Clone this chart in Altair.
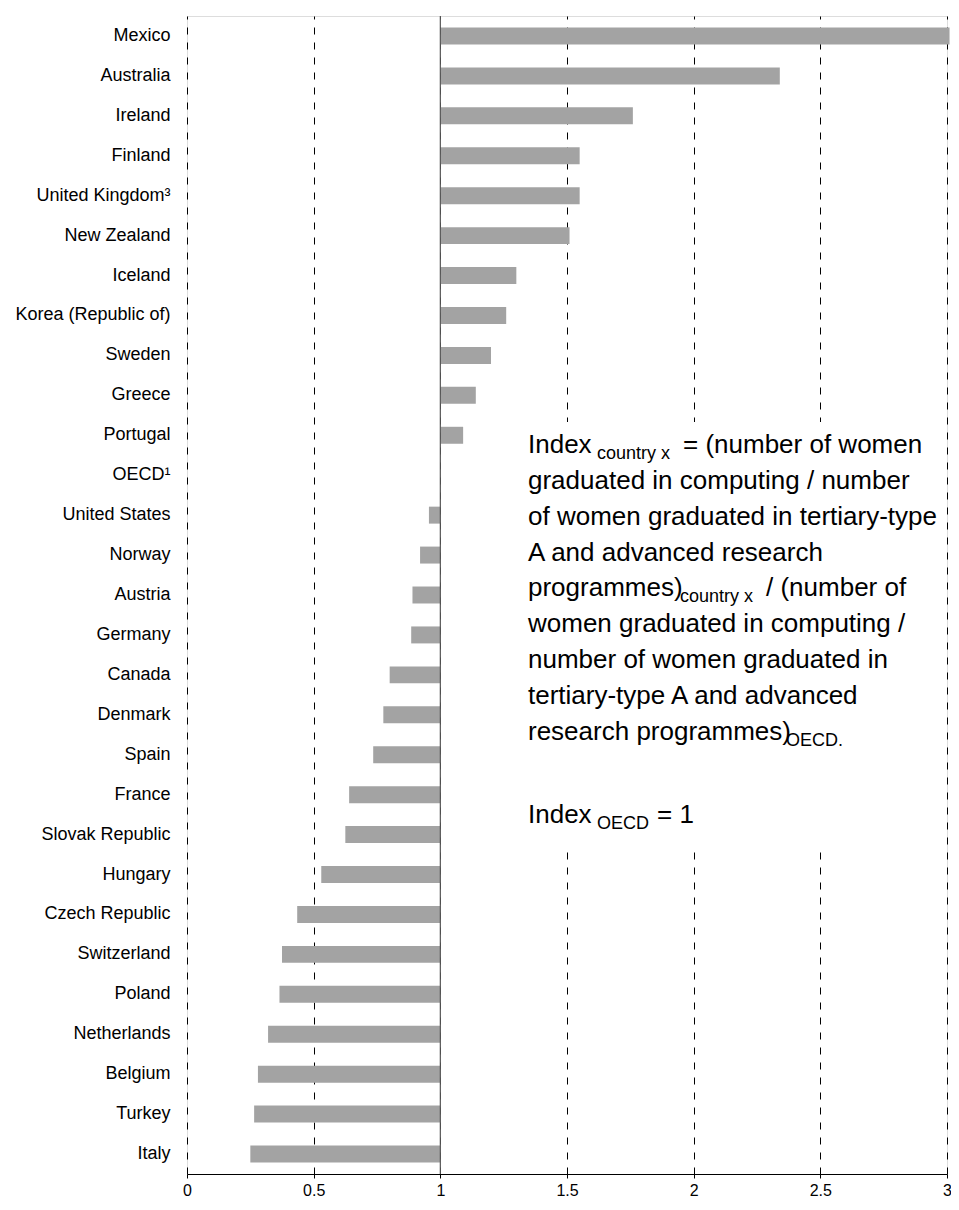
import altair as alt
import pandas as pd

countries = ["Mexico", "Australia", "Ireland", "Finland", "United Kingdom³", "New Zealand",
             "Iceland", "Korea (Republic of)", "Sweden", "Greece", "Portugal", "OECD¹",
             "United States", "Norway", "Austria", "Germany", "Canada", "Denmark", "Spain",
             "France", "Slovak Republic", "Hungary", "Czech Republic", "Switzerland",
             "Poland", "Netherlands", "Belgium", "Turkey", "Italy"]
values = [3.01, 2.34, 1.76, 1.55, 1.55, 1.51, 1.30, 1.26, 1.20, 1.14, 1.09, 1.00,
          0.955, 0.92, 0.89, 0.885, 0.80, 0.775, 0.735, 0.64, 0.625, 0.53, 0.435,
          0.375, 0.365, 0.32, 0.28, 0.265, 0.25]
x_ticks = [0, 0.5, 1, 1.5, 2, 2.5, 3]
baseline_value = [1]

df = pd.DataFrame({"country": countries, "value": values})

FONT = "Liberation Sans"
W, H = 760, 1158
PL, PT = 179, 8

bars = alt.Chart(df).mark_bar(color="#A3A3A3").encode(
    y=alt.Y("country:N", sort=countries, title=None,
            scale=alt.Scale(paddingInner=0.575, paddingOuter=0.2875),
            axis=alt.Axis(ticks=False, domain=False, labelFontSize=18, labelFont=FONT,
                          labelColor="black", labelPadding=17, grid=False)),
    x=alt.X("value:Q", title=None,
            scale=alt.Scale(domain=[0, 3], nice=False, zero=True),
            axis=alt.Axis(values=x_ticks, format=".1~f", labelFontSize=16, labelFont=FONT,
                          labelColor="black", domainColor="black", tickColor="black",
                          tickSize=4, labelPadding=4, grid=True, gridColor="black",
                          gridDash=[7, 8], gridWidth=1, gridOpacity=1, labelFlush=False)),
    x2=alt.X2(datum=1),
)

rule = alt.Chart(pd.DataFrame({"x": baseline_value})).mark_rule(
    color="#555555", strokeWidth=1.2).encode(x="x:Q")

OX, OY = PL + 8, PT + 8

# white box behind the annotation (page coords minus plot origin)
box = alt.Chart(pd.DataFrame({"a": [0]})).mark_rect(color="white").encode(
    x=alt.value(515 - OX), x2=alt.value(938 - OX), y=alt.value(422 - OY), y2=alt.value(850 - OY))

segments = [
    ("Index", 528, 453, 26),
    ("country x", 597, 459, 18),
    ("= (number of women", 683, 453, 26),
    ("graduated in computing / number", 528, 489, 26),
    ("of women graduated in tertiary-type", 528, 525, 26),
    ("A and advanced research", 528, 561, 26),
    ("programmes)", 528, 596, 26),
    ("country x", 680, 602, 18),
    ("/ (number of", 766, 596, 26),
    ("women graduated in computing /", 528, 632, 26),
    ("number of women graduated in", 528, 668, 26),
    ("tertiary-type A and advanced", 528, 704, 26),
    ("research programmes)", 528, 740, 26),
    ("OECD.", 786, 746, 18),
    ("Index", 528, 823, 26),
    ("OECD", 597, 829, 18),
    ("= 1", 657, 823, 26),
]

layers = [bars, rule, box]
one = pd.DataFrame({"a": [0]})
for txt, px, py, fs in segments:
    layers.append(
        alt.Chart(one).mark_text(align="left", baseline="alphabetic", fontSize=fs,
                                 font=FONT, color="black").encode(
            x=alt.value(px - OX), y=alt.value(py - OY), text=alt.value(txt))
    )

chart = alt.layer(*layers).properties(
    width=W, height=H,
    autosize=alt.AutoSizeParams(type="none"),
    padding={"left": PL, "top": PT, "right": 4, "bottom": 26},
).configure_view(stroke=None).configure(background="white")

chart.save("out.html", embed_options={"renderer": "svg", "actions": False})
